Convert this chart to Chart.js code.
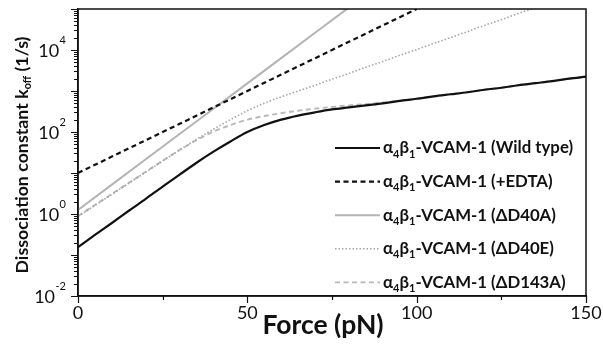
<!DOCTYPE html>
<html>
<head>
<meta charset="utf-8">
<script src="https://cdn.jsdelivr.net/npm/chart.js@4.4.1/dist/chart.umd.min.js"></script>
<style>
  html, body { margin: 0; padding: 0; background: #fff; }
  #wrap { width: 603px; height: 351px; }
</style>
</head>
<body>
<div id="wrap"><canvas id="c" width="603" height="351"></canvas></div>
<script>
// Force grids (pN)
const forceFine = [0, 5, 10, 15, 20, 25, 30, 35, 40, 45, 50, 55, 60, 65, 70, 75,
                   80, 85, 90, 95, 100, 105, 110, 115, 120, 125, 130, 135, 140, 145, 150];
const forceEdta = [0, 10, 20, 30, 40, 50, 60, 70, 80, 90, 100];
const forceD40A = [0, 10, 20, 30, 40, 50, 60, 70, 80];
const forceD40E = [0, 5, 10, 15, 20, 25, 30, 35, 40, 45, 50, 55, 60, 65, 70, 75,
                   80, 85, 90, 95, 100, 105, 110, 115, 120, 125, 130, 135];

// Dissociation constants k_off (1/s)
const koffWildType = [0.155, 0.309, 0.603, 1.20, 2.34, 4.68, 9.12, 17.8, 33.1, 58.9, 100,
                      148, 200, 251, 302, 355, 398, 447, 501, 575, 646, 741, 832, 933,
                      1072, 1202, 1380, 1549, 1738, 1995, 2239];
const koffEdta = [10, 25.1, 63.1, 158, 398, 1000, 2512, 6310, 15850, 39810, 100000];
const koffD40A = [1.26, 5.21, 21.6, 89.3, 370, 1531, 6339, 26240, 108600];
const koffD40E = [0.871, 1.62, 3.02, 5.62, 10.5, 19.5, 36.3, 66.1, 117, 200, 331, 501, 724,
                  1000, 1380, 1950, 2690, 3800, 5250, 7410, 10230, 14450, 19950, 28180,
                  39810, 54950, 77620, 107200];
const koffD143A = [0.891, 1.66, 3.09, 5.75, 10.7, 20.0, 36.3, 63.1, 102, 148, 200, 245, 288,
                   331, 372, 407, 447, 479, 525, 575, 646, 741, 832, 933, 1072, 1202, 1380,
                   1549, 1738, 1995, 2239];

const seriesNames = ['(Wild type)', '(+EDTA)', '(\u0394D40A)', '(\u0394D40E)', '(\u0394D143A)'];
const xTickLabels = [0, 50, 100, 150];
const xMinorTicks = [25, 75, 125];
const yTickExponents = [-2, 0, 2, 4];
const xTitle = 'Force (pN)';

const FONT = 'Lato';

function pts(xs, ys) { return xs.map((x, i) => ({ x: x, y: ys[i] })); }

const datasets = [
  { label: seriesNames[0], data: pts(forceFine, koffWildType), borderColor: '#111111', borderWidth: 2.2, borderDash: [], cubicInterpolationMode: 'monotone' },
  { label: seriesNames[1], data: pts(forceEdta, koffEdta), borderColor: '#111111', borderWidth: 2.2, borderDash: [5, 3.5], tension: 0 },
  { label: seriesNames[2], data: pts(forceD40A, koffD40A), borderColor: '#b4b4b4', borderWidth: 2, borderDash: [], tension: 0 },
  { label: seriesNames[3], data: pts(forceD40E, koffD40E), borderColor: '#a6a6a6', borderWidth: 1.6, borderDash: [1.5, 2], cubicInterpolationMode: 'monotone' },
  { label: seriesNames[4], data: pts(forceFine, koffD143A), borderColor: '#b8b8b8', borderWidth: 1.9, borderDash: [5, 3.5], cubicInterpolationMode: 'monotone' }
].map(d => Object.assign({ pointRadius: 0, fill: false, clip: 0 }, d));

// Frame, tick marks, axis titles, y tick labels with exponents and the in-plot legend
const decorations = {
  id: 'decorations',
  afterDraw(chart) {
    const { ctx, chartArea: a, scales } = chart;
    const xs = scales.x, ys = scales.y;
    ctx.save();

    // box around the plot
    ctx.strokeStyle = '#111';
    ctx.lineWidth = 1.5;
    ctx.strokeRect(a.left, a.top, a.right - a.left, a.bottom - a.top);

    // outward tick marks: long at labelled values / decades, short elsewhere
    ctx.lineWidth = 1.2;
    ctx.beginPath();
    xs.ticks.forEach(t => {
      const px = Math.round(xs.getPixelForValue(t.value)) + 0.5;
      const len = xTickLabels.includes(t.value) ? 7 : 4;
      ctx.moveTo(px, a.bottom);
      ctx.lineTo(px, a.bottom + len);
    });
    ys.ticks.forEach(t => {
      const py = Math.round(ys.getPixelForValue(t.value)) + 0.5;
      const len = t.major ? 7 : 4;
      ctx.moveTo(a.left, py);
      ctx.lineTo(a.left - len, py);
    });
    ctx.stroke();

    // y tick labels: 10 with a raised exponent
    ctx.fillStyle = '#111';
    ctx.textBaseline = 'middle';
    yTickExponents.forEach(e => {
      const py = ys.getPixelForValue(Math.pow(10, e));
      const exp = String(e);
      ctx.font = '11px ' + FONT;
      const ew = ctx.measureText(exp).width;
      ctx.textAlign = 'right';
      const right = a.left - 12;
      ctx.fillText(exp, right, py - 10);
      ctx.font = '18px ' + FONT;
      ctx.fillText('10', right - ew - 0.5, py + 1.5);
    });

    // x-axis title
    ctx.font = 'bold 26.5px ' + FONT;
    ctx.textAlign = 'center';
    ctx.textBaseline = 'alphabetic';
    ctx.fillText(xTitle, 323, 334);

    // y-axis title with subscript
    ctx.save();
    ctx.translate(22, 155);
    ctx.rotate(-Math.PI / 2);
    ctx.textBaseline = 'middle';
    const big = 'bold 17.8px ' + FONT, small = 'bold 10.8px ' + FONT;
    const p1 = 'Dissociation constant k', p2 = 'off', p3 = ' (1/s)';
    ctx.font = big; const w1 = ctx.measureText(p1).width, w3 = ctx.measureText(p3).width;
    ctx.font = small; const w2 = ctx.measureText(p2).width;
    let x = -(w1 + w2 + w3) / 2;
    ctx.textAlign = 'left';
    ctx.font = big; ctx.fillText(p1, x, 0); x += w1;
    ctx.font = small; ctx.fillText(p2, x, 5.5); x += w2;
    ctx.font = big; ctx.fillText(p3, x, 0);
    ctx.restore();

    // legend
    const rowY0 = 148, rowStep = 33.6, lineX0 = 335, lineX1 = 380, textX = 383;
    chart.data.datasets.forEach((ds, i) => {
      const y = rowY0 + i * rowStep;
      ctx.save();
      ctx.strokeStyle = ds.borderColor;
      ctx.lineWidth = ds.borderWidth;
      ctx.setLineDash(ds.borderDash || []);
      ctx.beginPath();
      ctx.moveTo(lineX0, y);
      ctx.lineTo(lineX1, y);
      ctx.stroke();
      ctx.restore();

      const parts = [
        ['\u03b1', 0, false], ['4', 6, true], ['\u03b2', 0, false], ['1', 6, true],
        ['-VCAM-1 ' + ds.label, 0, false]
      ];
      let tx = textX;
      ctx.fillStyle = '#111';
      ctx.textAlign = 'left';
      ctx.textBaseline = 'middle';
      parts.forEach(([t, dy, sub]) => {
        ctx.font = sub ? 'bold 11px ' + FONT : 'bold 16.8px ' + FONT;
        ctx.fillText(t, tx, y + dy);
        tx += ctx.measureText(t).width;
      });
    });
    ctx.restore();
  }
};

new Chart(document.getElementById('c'), {
  type: 'line',
  data: { datasets: datasets },
  options: {
    responsive: false,
    devicePixelRatio: 1,
    animation: false,
    layout: { padding: { top: 9, right: 17, left: 0, bottom: 0 } },
    plugins: { legend: { display: false }, tooltip: { enabled: false } },
    scales: {
      x: {
        type: 'linear',
        min: 0, max: 150,
        afterBuildTicks(scale) {
          scale.ticks = xTickLabels.concat(xMinorTicks).sort((p, q) => p - q).map(v => ({ value: v }));
        },
        afterFit(scale) { scale.height = 55; },
        grid: { display: true, drawOnChartArea: false, drawTicks: true, tickLength: 5, color: 'rgba(0,0,0,0)' },
        border: { display: true, color: '#111', width: 1.5 },
        ticks: {
          color: '#111', padding: 1, maxRotation: 0, autoSkip: false,
          font: { family: FONT, size: 18 },
          callback: v => (xTickLabels.includes(v) ? String(v) : '')
        },
        title: { display: false }
      },
      y: {
        type: 'logarithmic',
        min: 0.01, max: 100000,
        afterBuildTicks(scale) {
          const t = [];
          for (let e = -2; e <= 4; e++) {
            for (let m = 1; m <= 9; m++) t.push({ value: m * Math.pow(10, e), major: m === 1 });
          }
          t.push({ value: 100000, major: true });
          scale.ticks = t;
        },
        afterFit(scale) { scale.width = 78; },
        grid: { display: false },
        border: { display: true, color: '#111', width: 1.5 },
        ticks: { display: false }
      }
    }
  },
  plugins: [decorations]
});
</script>
</body>
</html>
